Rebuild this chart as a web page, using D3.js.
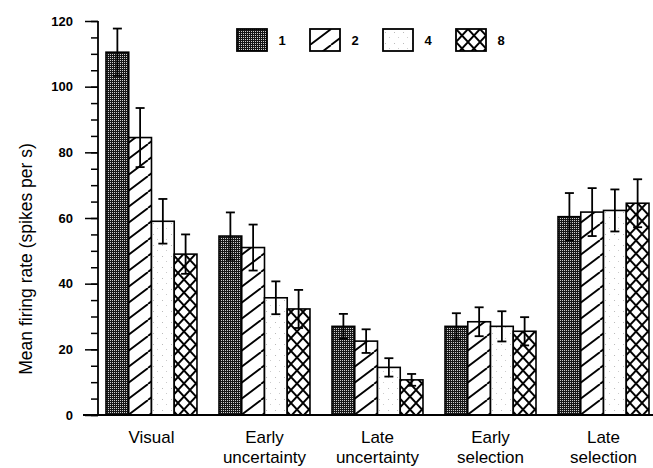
<!DOCTYPE html>
<html>
<head>
<meta charset="utf-8">
<script src="https://cdn.jsdelivr.net/npm/d3@7"></script>
<style>
  html, body { margin: 0; padding: 0; background: #fff; }
  svg { display: block; font-family: "Liberation Sans", Arial, sans-serif; }
</style>
</head>
<body>
<div id="chart"></div>
<script>
// chart data
const categories = ["Visual", "Early uncertainty", "Late uncertainty", "Early selection", "Late selection"];
const seriesNames = ["1", "2", "4", "8"];
// mean firing rate per category, one value per series
const means = [
  [110.5, 84.5, 59.0, 49.0],
  [54.5, 51.0, 35.7, 32.3],
  [27.0, 22.5, 14.5, 10.7],
  [27.0, 28.4, 27.0, 25.5],
  [60.4, 61.8, 62.3, 64.5]
];
// error bar half-lengths
const errors = [
  [7.2, 9.0, 6.8, 6.0],
  [7.2, 7.0, 5.0, 5.8],
  [3.8, 3.6, 2.8, 1.8],
  [4.0, 4.4, 4.6, 4.3],
  [7.2, 7.3, 6.4, 7.3]
];
const yTicks = [0, 20, 40, 60, 80, 100, 120];

const width = 653, height = 468;
const svg = d3.select("#chart").append("svg")
  .attr("width", width)
  .attr("height", height);

// fill patterns
const defs = svg.append("defs");

const stip = defs.append("pattern").attr("id", "pat-1")
  .attr("patternUnits", "userSpaceOnUse").attr("width", 2).attr("height", 2);
stip.append("rect").attr("width", 2).attr("height", 2).attr("fill", "#161616");
stip.append("rect").attr("x", 0).attr("y", 0).attr("width", 1).attr("height", 1).attr("fill", "#d0d0d0");

const hatch = defs.append("pattern").attr("id", "pat-2")
  .attr("patternUnits", "userSpaceOnUse").attr("width", 21).attr("height", 16);
hatch.append("rect").attr("width", 21).attr("height", 16).attr("fill", "#fff");
hatch.append("path")
  .attr("d", "M-21,16 L0,0 M0,16 L21,0 M21,16 L42,0")
  .attr("stroke", "#000").attr("stroke-width", 1.8);

const dots = defs.append("pattern").attr("id", "pat-4")
  .attr("patternUnits", "userSpaceOnUse").attr("width", 9).attr("height", 11);
dots.append("rect").attr("width", 9).attr("height", 11).attr("fill", "#fff");
dots.append("rect").attr("x", 2).attr("y", 3).attr("width", 1).attr("height", 1).attr("fill", "#bbb");
dots.append("rect").attr("x", 6).attr("y", 8).attr("width", 1).attr("height", 1).attr("fill", "#ccc");

const cross = defs.append("pattern").attr("id", "pat-8")
  .attr("patternUnits", "userSpaceOnUse").attr("width", 12).attr("height", 13);
cross.append("rect").attr("width", 12).attr("height", 13).attr("fill", "#fff");
cross.append("path")
  .attr("d", "M0,0 L12,13 M0,13 L12,0")
  .attr("stroke", "#000").attr("stroke-width", 1.9);

const fills = d3.scaleOrdinal().domain(seriesNames)
  .range(["url(#pat-1)", "url(#pat-2)", "url(#pat-4)", "url(#pat-8)"]);

// scales
const axisX = 98;
const y = d3.scaleLinear().domain([0, 120]).range([415, 21]);
const x0 = d3.scaleBand().domain(categories).range([106, 649]).paddingInner(0.195).paddingOuter(0);
const x1 = d3.scaleBand().domain(seriesNames).range([0, x0.bandwidth()]);

// bars
const groups = svg.append("g").selectAll("g")
  .data(categories)
  .join("g")
  .attr("transform", d => `translate(${x0(d)},0)`);

groups.selectAll("rect")
  .data((c, i) => seriesNames.map((s, j) => ({ s, v: means[i][j], e: errors[i][j] })))
  .join("rect")
  .attr("x", d => x1(d.s))
  .attr("y", d => y(d.v))
  .attr("width", x1.bandwidth())
  .attr("height", d => y(0) - y(d.v))
  .attr("fill", d => fills(d.s))
  .attr("stroke", "#000")
  .attr("stroke-width", 1.6);

// error bars
const capW = 4.5;
const eb = groups.selectAll("g.err")
  .data((c, i) => seriesNames.map((s, j) => ({ s, v: means[i][j], e: errors[i][j] })))
  .join("g")
  .attr("class", "err")
  .attr("transform", d => `translate(${x1(d.s) + x1.bandwidth() / 2},0)`)
  .attr("stroke", "#000")
  .attr("stroke-width", 1.8);
eb.append("line").attr("y1", d => y(d.v + d.e)).attr("y2", d => y(d.v - d.e));
eb.append("line").attr("x1", -capW).attr("x2", capW).attr("y1", d => y(d.v + d.e)).attr("y2", d => y(d.v + d.e));
eb.append("line").attr("x1", -capW).attr("x2", capW).attr("y1", d => y(d.v - d.e)).attr("y2", d => y(d.v - d.e));

// y axis: minor ticks every 5, major every 20
const minorAxis = svg.append("g")
  .attr("transform", `translate(${axisX},0)`)
  .call(d3.axisLeft(y).tickValues(d3.range(0, 121, 5)).tickSize(7).tickFormat(""));
minorAxis.select(".domain").remove();

const majorAxis = svg.append("g")
  .attr("transform", `translate(${axisX},0)`)
  .call(d3.axisLeft(y).tickValues(yTicks).tickSize(13).tickPadding(12));
majorAxis.select(".domain").remove();
majorAxis.selectAll("text")
  .attr("font-family", "'Liberation Sans', Arial, sans-serif")
  .attr("font-size", 13)
  .attr("font-weight", "bold")
  .attr("fill", "#000");
svg.selectAll(".tick line").attr("stroke", "#000").attr("stroke-width", 1.5);

svg.append("line")
  .attr("x1", axisX).attr("x2", axisX)
  .attr("y1", y(120)).attr("y2", y(0))
  .attr("stroke", "#000").attr("stroke-width", 1.8);
svg.append("line")
  .attr("x1", 83).attr("x2", width)
  .attr("y1", y(0)).attr("y2", y(0))
  .attr("stroke", "#000").attr("stroke-width", 1.8);

// y axis title
svg.append("text")
  .attr("transform", `translate(32,${(y(0) + 97) / 2 + 3}) rotate(-90)`)
  .attr("text-anchor", "middle")
  .attr("font-size", 17.5)
  .attr("fill", "#000")
  .text("Mean firing rate (spikes per s)");

// category labels (two lines where needed)
const labels = svg.append("g").selectAll("text")
  .data(categories)
  .join("text")
  .attr("x", d => x0(d) + x0.bandwidth() / 2)
  .attr("y", 443)
  .attr("text-anchor", "middle")
  .attr("font-size", 17)
  .attr("fill", "#000");
labels.each(function (d) {
  const words = d.split(" ");
  const t = d3.select(this);
  const cx = t.attr("x");
  words.forEach((w, k) => {
    t.append("tspan").attr("x", cx).attr("dy", k === 0 ? 0 : 20).text(w);
  });
});

// legend
const legend = svg.append("g").selectAll("g")
  .data(seriesNames)
  .join("g")
  .attr("transform", (d, i) => `translate(${237 + i * 73},29)`);
legend.append("rect")
  .attr("width", 30).attr("height", 22)
  .attr("fill", d => fills(d))
  .attr("stroke", "#000").attr("stroke-width", 1.8);
legend.append("text")
  .attr("x", 45).attr("y", 16)
  .attr("text-anchor", "middle")
  .attr("font-size", 13)
  .attr("font-weight", "bold")
  .attr("fill", "#000")
  .text(d => d);
</script>
</body>
</html>
